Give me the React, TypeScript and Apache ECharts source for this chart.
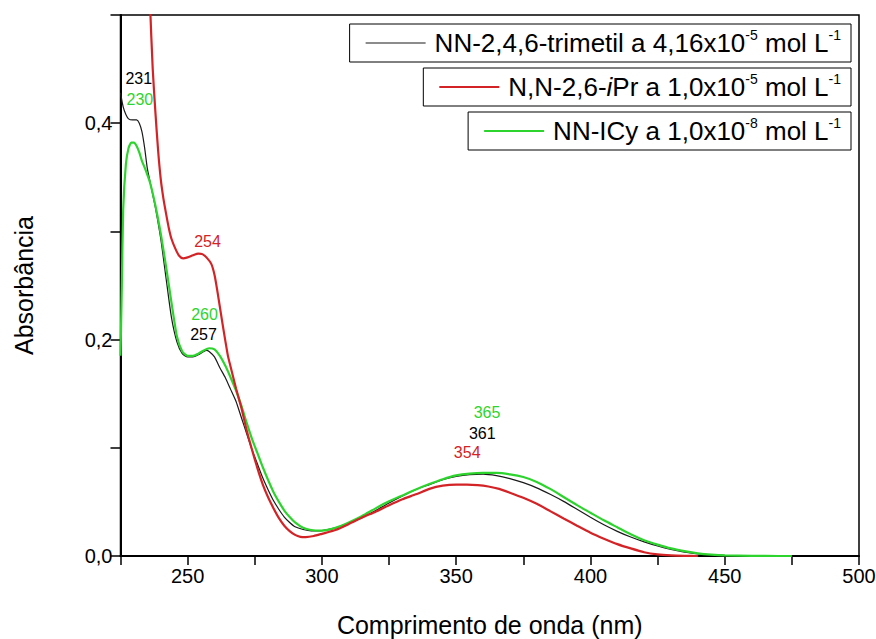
import React, { useEffect, useRef } from "react";
import * as echarts from "echarts";

const FONT = '"Liberation Sans", Arial, Helvetica, sans-serif';

// Series names (legend)
const seriesNames = [
  "NN-2,4,6-trimetil a 4,16x10-5 mol L-1",
  "N,N-2,6-iPr a 1,0x10-5 mol L-1",
  "NN-ICy a 1,0x10-8 mol L-1",
];
const legendRich = [
  "NN-2,4,6-trimetil a 4,16x10{sup|-5} mol L{sup|-1}",
  "N,N-2,6-{it|i}Pr a 1,0x10{sup|-5} mol L{sup|-1}",
  "NN-ICy a 1,0x10{sup|-8} mol L{sup|-1}",
];

// NN-2,4,6-trimetil (black)
const wlBlack = [225, 226, 227, 228, 229.5, 231, 232, 233, 234, 235, 236, 237, 238, 240, 242, 244, 246, 248, 250, 252, 254, 256, 257, 258, 260, 262, 264, 266, 268, 270, 272, 274, 276, 278, 280, 282, 284, 286, 288, 290, 293, 296, 300, 305, 310, 315, 320, 325, 330, 335, 340, 345, 350, 355, 360, 365, 370, 375, 380, 385, 390, 395, 400, 405, 410, 415, 420, 425, 430, 435, 440, 445, 450, 460, 470];
const absBlack = [0.428, 0.415, 0.408, 0.404, 0.403, 0.403, 0.4, 0.392, 0.377, 0.358, 0.346, 0.334, 0.322, 0.293, 0.256, 0.22, 0.198, 0.187, 0.184, 0.184, 0.186, 0.189, 0.19, 0.189, 0.184, 0.174, 0.165, 0.154, 0.143, 0.128, 0.113, 0.098, 0.085, 0.072, 0.061, 0.051, 0.043, 0.036, 0.031, 0.027, 0.0245, 0.0232, 0.0235, 0.026, 0.0305, 0.0355, 0.042, 0.049, 0.0555, 0.0615, 0.066, 0.0705, 0.0735, 0.0752, 0.0756, 0.0742, 0.0715, 0.0678, 0.063, 0.057, 0.0505, 0.0432, 0.0358, 0.0288, 0.0228, 0.0175, 0.013, 0.0092, 0.006, 0.0035, 0.002, 0.001, 0.0005, 0.0002, 0.0];

// N,N-2,6-iPr (red)
const wlRed = [234, 235, 236, 237, 238, 239, 240, 241, 242, 243, 244, 245.8, 247, 248.3, 250, 252, 254, 255.5, 257, 258.8, 260, 261, 263, 265, 266, 268, 270, 272, 274, 276, 278, 280, 282, 284, 286, 288, 290, 292, 294, 297, 300, 305, 310, 315, 320, 325, 330, 335, 340, 345, 350, 354, 358, 362, 366, 370, 375, 380, 385, 390, 395, 400, 405, 410, 415, 420, 425, 430, 435, 440];
const absRed = [0.7, 0.6, 0.51, 0.45, 0.41, 0.375, 0.348, 0.33, 0.316, 0.303, 0.293, 0.282, 0.277, 0.275, 0.276, 0.278, 0.2795, 0.279, 0.276, 0.27, 0.26, 0.246, 0.2145, 0.185, 0.175, 0.155, 0.137, 0.116, 0.098, 0.081, 0.066, 0.054, 0.044, 0.035, 0.028, 0.023, 0.0195, 0.0177, 0.0175, 0.0185, 0.0205, 0.024, 0.0295, 0.0355, 0.041, 0.047, 0.0525, 0.057, 0.062, 0.065, 0.066, 0.066, 0.0655, 0.0642, 0.062, 0.0585, 0.0538, 0.0482, 0.0415, 0.0347, 0.028, 0.0215, 0.016, 0.011, 0.007, 0.0035, 0.0015, 0.0006, 0.0002, 0.0];

// NN-ICy (green)
const wlGreen = [225, 225.5, 226, 227, 228, 229, 230, 231, 232, 233, 234, 236, 238, 240, 242, 244, 246, 248, 250, 252, 254, 256, 258, 260, 262, 264, 266, 268, 270, 272, 274, 276, 278, 280, 282, 284, 286, 288, 290, 293, 296, 300, 305, 310, 315, 320, 325, 330, 335, 340, 345, 350, 355, 360, 365, 370, 375, 380, 385, 390, 395, 400, 405, 410, 415, 420, 425, 430, 435, 440, 445, 450, 460, 470, 475];
const absGreen = [0.185, 0.25, 0.32, 0.362, 0.377, 0.382, 0.382, 0.379, 0.373, 0.365, 0.359, 0.345, 0.324, 0.298, 0.267, 0.234, 0.203, 0.189, 0.185, 0.185, 0.187, 0.19, 0.192, 0.191, 0.185, 0.176, 0.165, 0.153, 0.139, 0.123, 0.108, 0.095, 0.082, 0.07, 0.059, 0.05, 0.042, 0.036, 0.031, 0.026, 0.024, 0.0235, 0.026, 0.031, 0.037, 0.044, 0.0505, 0.056, 0.0615, 0.0665, 0.071, 0.0745, 0.0762, 0.0768, 0.0768, 0.0755, 0.073, 0.0685, 0.062, 0.0545, 0.047, 0.04, 0.033, 0.0265, 0.02, 0.0145, 0.0105, 0.007, 0.0045, 0.0025, 0.0013, 0.0006, 0.0002, 0.0, 0.0];

// Peak annotations: [label, wavelength, absorbance]
const peaksBlack: [string, number, number][] = [["231", 231.8, 0.441], ["257", 255.9, 0.2046], ["361", 359.7, 0.1134]];
const peaksRed: [string, number, number][] = [["254", 257.4, 0.291], ["354", 354.1, 0.0959]];
const peaksGreen: [string, number, number][] = [["230", 232.2, 0.422], ["260", 256.3, 0.223], ["365", 361.5, 0.1327]];

const xTickLabels = ["250", "300", "350", "400", "450", "500"];
const yTickLabels = ["0,0", "0,2", "0,4"];

const colors = ["#1a1a1a", "#d42326", "#2ed42e"];
const lineWidths = [1.2, 2.2, 2.2];

const zip = (a: number[], b: number[]) => a.map((x, i) => [x, b[i]]);

const markPoints = (peaks: [string, number, number][], color: string) => ({
  symbol: "rect",
  symbolSize: 1,
  itemStyle: { color: "rgba(0,0,0,0)" },
  label: {
    show: true,
    position: "inside",
    formatter: (p: any) => p.name,
    color,
    fontSize: 16,
    fontFamily: FONT,
  },
  data: peaks.map(([n, x, y]) => ({ name: n, coord: [x, y] })),
});

const legendBase = (i: number, top: number) => ({
  data: [{ name: seriesNames[i], icon: "rect", itemStyle: { color: colors[i] } }],
  right: 25,
  top,
  orient: "horizontal",
  borderColor: "#000",
  borderWidth: 1,
  padding: [4, 10, 4, 16],
  itemWidth: 60,
  itemHeight: lineWidths[i],
  itemGap: 12,
  selectedMode: false,
  formatter: () => legendRich[i],
  textStyle: {
    fontSize: 26,
    lineHeight: 30,
    fontFamily: FONT,
    color: "#000",
    padding: [0, 0, 0, 4],
    rich: {
      sup: { fontSize: 14, fontFamily: FONT, color: "#000", verticalAlign: "top" },
      it: { fontSize: 26, fontFamily: FONT, color: "#000", fontStyle: "italic" },
    },
  },
});

export default function App() {
  const ref = useRef<HTMLDivElement>(null);
  useEffect(() => {
    const chart = echarts.init(ref.current!, null, { renderer: "svg" });
    const option: any = {
      animation: false,
      backgroundColor: "#fff",
      grid: {
        left: 120.5,
        right: 17,
        top: 15,
        bottom: 83,
        show: true,
        borderColor: "#000",
        borderWidth: 1.5,
        containLabel: false,
        outerBoundsMode: "none",
      },
      legend: [legendBase(0, 24), legendBase(1, 68), legendBase(2, 112)],
      xAxis: {
        type: "value",
        min: 225,
        max: 500,
        interval: 25,
        name: "Comprimento de onda (nm)",
        nameLocation: "middle",
        nameGap: 56,
        nameTextStyle: { fontSize: 25, fontFamily: FONT, color: "#000" },
        axisLine: { show: true, onZero: false, lineStyle: { color: "#000", width: 2 } },
        axisTick: { show: true, length: 9, lineStyle: { color: "#000", width: 1.5 } },
        axisLabel: {
          fontSize: 20,
          fontFamily: FONT,
          color: "#000",
          margin: 10,
          formatter: (v: number) => {
            const s = String(Math.round(v));
            return xTickLabels.includes(s) ? s : "";
          },
        },
        splitLine: { show: false },
      },
      yAxis: {
        type: "value",
        min: 0,
        max: 0.5,
        interval: 0.1,
        name: "Absorbância",
        nameLocation: "middle",
        nameGap: 84,
        nameRotate: 90,
        nameTextStyle: { fontSize: 25, fontFamily: FONT, color: "#000" },
        axisLine: { show: true, lineStyle: { color: "#000", width: 2 } },
        axisTick: { show: true, length: 10, lineStyle: { color: "#000", width: 1.5 } },
        axisLabel: {
          fontSize: 20,
          fontFamily: FONT,
          color: "#000",
          margin: 8,
          formatter: (v: number) => {
            const s = v.toFixed(1).replace(".", ",");
            return yTickLabels.includes(s) ? s : "";
          },
        },
        splitLine: { show: false },
      },
      series: [
        {
          name: seriesNames[0],
          type: "line",
          data: zip(wlBlack, absBlack),
          symbol: "none",
          smooth: 0.2,
          z: 3,
          lineStyle: { color: colors[0], width: lineWidths[0] },
          itemStyle: { color: colors[0] },
          markPoint: markPoints(peaksBlack, "#000"),
        },
        {
          name: seriesNames[2],
          type: "line",
          data: zip(wlGreen, absGreen),
          symbol: "none",
          smooth: 0.2,
          z: 4,
          lineStyle: { color: colors[2], width: lineWidths[2] },
          itemStyle: { color: colors[2] },
          markPoint: markPoints(peaksGreen, "#2ed42e"),
        },
        {
          name: seriesNames[1],
          type: "line",
          data: zip(wlRed, absRed),
          symbol: "none",
          smooth: 0.2,
          z: 5,
          lineStyle: { color: colors[1], width: lineWidths[1] },
          itemStyle: { color: colors[1] },
          markPoint: markPoints(peaksRed, "#d42326"),
        },
      ],
    };
    chart.setOption(option);
    return () => chart.dispose();
  }, []);
  return (
    <div
      ref={ref}
      style={{ position: "fixed", left: 0, top: 0, width: 876, height: 639, background: "#fff" }}
    />
  );
}
